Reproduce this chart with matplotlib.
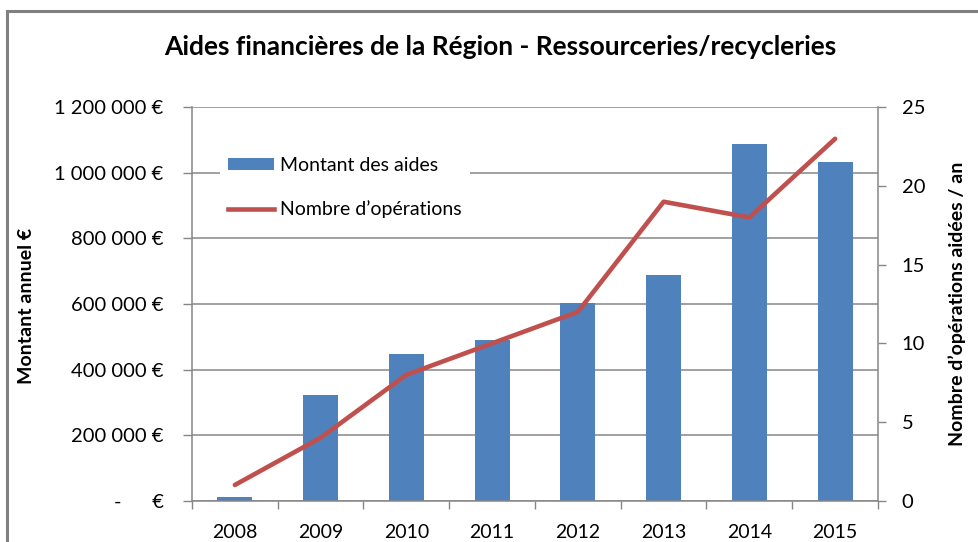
import matplotlib
matplotlib.use("Agg")
import matplotlib.pyplot as plt
import numpy as np
from matplotlib.lines import Line2D
from matplotlib.patches import Patch

plt.rcParams['font.family'] = ['Lato', 'DejaVu Sans']

years = ["2008", "2009", "2010", "2011", "2012", "2013", "2014", "2015"]
montant = [12000, 323000, 449000, 490000, 602000, 688000, 1088000, 1033000]
operations = [1, 4, 8, 10, 12, 19, 18, 23]
left_ticks = [0, 200000, 400000, 600000, 800000, 1000000, 1200000]
left_labels = ["-      €", "200 000 €", "400 000 €", "600 000 €", "800 000 €", "1 000 000 €", "1 200 000 €"]
right_ticks = [0, 5, 10, 15, 20, 25]

W, H = 979, 542
fig = plt.figure(figsize=(W / 100, H / 100), dpi=100)
fig.patch.set_facecolor("white")

ax = fig.add_axes([192 / W, 1 - 500.7 / H, (878 - 192) / W, (500.7 - 107.3) / H])
ax2 = ax.twinx()

gray = "#868686"
x = np.arange(len(years))
ax.bar(x, montant, width=0.41, color="#4F81BD", zorder=2)
ax.set_xlim(-0.5, len(years) - 0.5)
ax.set_ylim(0, 1200000)
ax.set_yticks(left_ticks)
ax.set_yticklabels(left_labels)
ax.yaxis.grid(True, color=gray, linewidth=1.1, zorder=0)
ax.set_axisbelow(True)

ax.set_xticks(x)
ax.set_xticklabels(years)
ax.set_xticks(np.arange(-0.5, len(years), 1), minor=True)
ax.tick_params(axis="x", which="major", length=0, pad=17, labelsize=14)
ax.tick_params(axis="x", which="minor", length=6, width=1, color=gray, direction="out")
ax.tick_params(axis="y", length=6.5, width=1, color=gray, pad=14, labelsize=14.5)

for side in ["top", "right"]:
    ax.spines[side].set_visible(False)
for side in ["left", "bottom"]:
    ax.spines[side].set_color(gray)
    ax.spines[side].set_linewidth(1.1)

ax2.plot(x, operations, color="#C0504D", linewidth=3.3, solid_capstyle="round", zorder=3)
ax2.set_ylim(0, 25)
ax2.set_yticks(right_ticks)
ax2.tick_params(axis="y", length=6, width=1, color=gray, pad=11, labelsize=14.5)
for side in ["top", "left", "bottom"]:
    ax2.spines[side].set_visible(False)
ax2.spines["right"].set_color(gray)
ax2.spines["right"].set_linewidth(1.1)

fig.text(500 / W, 1 - 47 / H, "Aides financières de la Région - Ressourceries/recycleries",
         ha="center", va="center", fontsize=19, fontweight="bold")
fig.text(27 / W, 1 - 306 / H, "Montant annuel €", rotation=90, ha="center", va="center",
         fontsize=14, fontweight="bold")
fig.text(957 / W, 1 - 304 / H, "Nombre d\u2019opérations aidées / an", rotation=90, ha="center",
         va="center", fontsize=14, fontweight="bold")

handles = [Patch(facecolor="#4F81BD", edgecolor="none"),
           Line2D([0], [0], color="#C0504D", linewidth=3.3)]
leg = ax2.legend(handles, ["Montant des aides", "Nombre d\u2019opérations"],
                 loc="upper left", bbox_to_anchor=(220 / W, 1 - 149 / H),
                 bbox_transform=fig.transFigure, frameon=True, fontsize=14,
                 handlelength=2.4, handleheight=0.55, handletextpad=0.3,
                 labelspacing=1.36, borderpad=0.4, borderaxespad=0)
leg.get_frame().set_facecolor("white")
leg.get_frame().set_edgecolor("none")
leg.get_frame().set_alpha(1)

# outer border (cropped at right and bottom)
fig.add_artist(Line2D([7 / W, 7 / W], [1 - 11 / H, -0.1], color="#808080", linewidth=2.2,
                      transform=fig.transFigure))
fig.add_artist(Line2D([7 / W, 1.1], [1 - 11 / H, 1 - 11 / H], color="#808080", linewidth=2.2,
                      transform=fig.transFigure))

fig.savefig("out.png", dpi=100)
